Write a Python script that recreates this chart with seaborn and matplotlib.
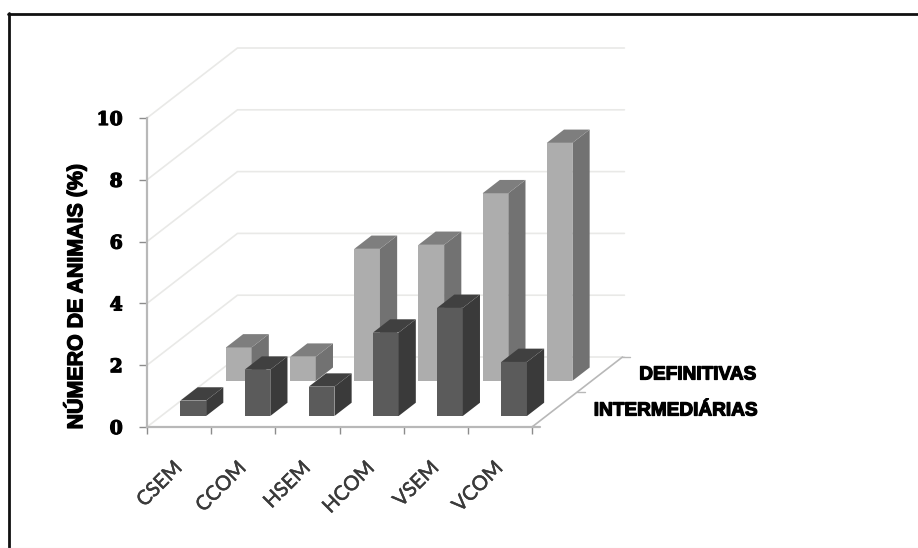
import matplotlib
matplotlib.use("Agg")
import matplotlib.pyplot as plt
import matplotlib.patheffects as pe
from matplotlib.lines import Line2D
import seaborn as sns

# Data: percentage of animals per group and larval stage
categories = ["CSEM", "CCOM", "HSEM", "HCOM", "VSEM", "VCOM"]
intermediarias = [0.5, 1.5, 0.95, 2.7, 3.5, 1.75]
definitivas = [1.08, 0.78, 4.27, 4.4, 6.07, 7.7]
y_ticks = [0, 2, 4, 6, 8, 10]

W, H = 918, 548
sns.set_style("white")
fig = plt.figure(figsize=(W / 100, H / 100), dpi=100)
ax = fig.add_axes([147 / W, (H - 427) / H, (532 - 147) / W, (427 - 118) / H])
ax.patch.set_alpha(0)

# Oblique projection: depth 0 is the front plane, depth 1 the back wall
DX, DY = 1.41, 2.265
BAR_W, BAR_D = 0.40, 0.19
GRID = "#e9e9e7"
AXIS = "#b8b8b8"


def project(x, y, t):
    return x + t * DX, y + t * DY


def prism(values, depth, face, side, top, z):
    """Draw one row of bars: seaborn for the front faces, polygons for the sides and tops."""
    xs = [i + 0.5 + depth * DX for i in range(len(values))]
    floor = depth * DY
    sns.barplot(x=xs, y=values, native_scale=True, width=BAR_W, bottom=floor,
                color=face, saturation=1, linewidth=0, clip_on=False,
                zorder=z, err_kws={"linewidth": 0}, ax=ax)
    for xc, v in zip(xs, values):
        x0, x1 = xc - BAR_W / 2, xc + BAR_W / 2
        y0, y1 = floor, floor + v
        dx, dy = BAR_D * DX, BAR_D * DY
        ax.fill([x1, x1 + dx, x1 + dx, x1], [y0, y0 + dy, y1 + dy, y1],
                color=side, lw=0, clip_on=False, zorder=z)
        ax.fill([x0, x1, x1 + dx, x0 + dx], [y1, y1, y1 + dy, y1 + dy],
                color=top, lw=0, clip_on=False, zorder=z)


# Walls and floor of the chart box
for v in y_ticks:
    pts = [project(0, v, 0), project(0, v, 1), project(6.03, v, 1)]
    ax.plot(*zip(*pts), color=GRID, lw=1.2, clip_on=False, zorder=1)
ax.plot(*zip(project(6, 0, 0), project(6, 0, 1)), color=AXIS, lw=1.2, clip_on=False, zorder=1)
for t in (0.5, 1.0):
    p = project(6, 0, t)
    ax.plot([p[0], p[0] + 0.12], [p[1], p[1]], color=AXIS, lw=1.0, clip_on=False, zorder=1)
ax.plot([6, 6.12], [0, 0], color=AXIS, lw=1.6, clip_on=False, zorder=1)

prism(definitivas, 0.66, "#adadad", "#727272", "#7e7e7e", 2)
prism(intermediarias, 0.157, "#5b5b5b", "#3a3a3a", "#404040", 3)

# Axes, ticks and tick labels
ax.set_xlim(0, 6)
ax.set_ylim(0, 10)
sns.despine(ax=ax)
for s in ("left", "bottom"):
    ax.spines[s].set_color(AXIS)
    ax.spines[s].set_linewidth(1.6)
ax.set_xticks(range(7), [""] * 7)
ax.set_xticks([i + 0.41 for i in range(6)], categories, minor=True)
ax.tick_params(axis="x", which="major", length=5, width=1, color="#8c8c8c", bottom=True)
ax.tick_params(axis="x", which="minor", length=0, pad=23, bottom=True)
for lab in ax.get_xticklabels(minor=True):
    lab.set(rotation=45, ha="right", va="top", rotation_mode="anchor",
            family="Lato", fontsize=14.5, color="#3a3a3a",
            path_effects=[pe.withStroke(linewidth=0.35, foreground="#3a3a3a")])
ax.set_xlabel("")
ax.set_yticks(y_ticks, [str(v) for v in y_ticks])
ax.tick_params(axis="y", length=5.5, width=1, color="#8c8c8c", left=True, pad=12)
heavy = [pe.withStroke(linewidth=0.9, foreground="black")]
for lab in ax.get_yticklabels():
    lab.set(family="DejaVu Serif", fontweight="bold", fontsize=13.5, color="black", path_effects=heavy)
ax.set_ylabel("")

# Heavy condensed lettering for the axis title and the row names
fig.text(75 / W, 1 - 297 / H, "NÚMERO DE ANIMAIS (%)", rotation=90, ha="center", va="center",
         family="Liberation Sans", fontweight="bold", fontsize=15.4, color="black", path_effects=heavy)
fig.text(756 / W, 1 - 375 / H, "DEFINITIVAS", ha="right", va="center",
         family="Liberation Sans", fontweight="bold", fontsize=13.7, color="black", path_effects=heavy)
fig.text(757 / W, 1 - 411 / H, "INTERMEDIÁRIAS", ha="right", va="center",
         family="Liberation Sans", fontweight="bold", fontsize=13.7, color="black", path_effects=heavy)

# Outer frame of the chart area
for xs, ys, c, lw in [([9, 9], [13, 548], "#111111", 2.0),
                      ([8, 918], [13.5, 13.5], "#111111", 2.0),
                      ([0, 918], [547.5, 547.5], "#e4e4e4", 0.8)]:
    fig.add_artist(Line2D([x / W for x in xs], [1 - y / H for y in ys],
                          color=c, lw=lw, transform=fig.transFigure))

fig.savefig("out.png", dpi=100, facecolor="white")
